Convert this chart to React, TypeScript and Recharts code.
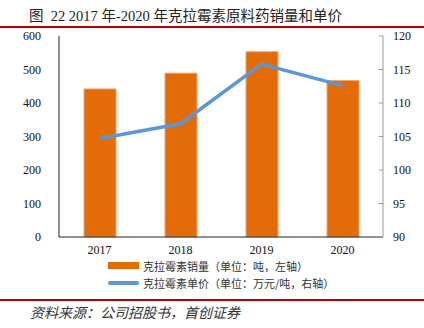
import { Bar, ComposedChart, Line, XAxis, YAxis } from "recharts";

const years = ["2017", "2018", "2019", "2020"];
const salesTons = [442, 489, 553, 467];
const unitPrice = [104.7, 106.9, 115.8, 112.6];
const leftTicks = [0, 100, 200, 300, 400, 500, 600];
const rightTicks = [90, 95, 100, 105, 110, 115, 120];

const barLabel = "克拉霉素销量（单位：吨，左轴）";
const lineLabel = "克拉霉素单价（单位：万元/吨，右轴）";

const orange = "#E36C09";
const blue = "#5B96D8";
const red = "#C00000";
const serif = "'Liberation Serif', 'Noto Sans CJK SC', serif";

const data = years.map((y, i) => ({
  year: y,
  sales: salesTons[i],
  price: unitPrice[i],
}));

export default function App() {
  return (
    <div
      style={{
        position: "fixed",
        left: 0,
        top: 0,
        width: 424,
        height: 328,
        background: "#fff",
        fontFamily: serif,
        overflow: "hidden",
      }}
    >
      <div
        style={{
          position: "absolute",
          left: 29,
          top: 4,
          fontSize: 14.5,
          color: "#222",
          whiteSpace: "pre",
          fontFamily: "'Liberation Serif', 'Noto Sans CJK SC', sans-serif",
        }}
      >
        {"图  22 2017 年-2020 年克拉霉素原料药销量和单价"}
      </div>
      <div style={{ position: "absolute", left: 0, top: 26, width: 424, height: 1.5, background: red }} />

      <div style={{ position: "absolute", left: 0, top: 0 }}>
        <ComposedChart
          width={424}
          height={264}
          data={data}
          margin={{ top: 36, right: 0, left: 0, bottom: 5 }}
          barCategoryGap="60%"
        >
          <XAxis
            dataKey="year"
            tickLine={false}
            axisLine={{ stroke: "#222", strokeWidth: 1 }}
            tick={{ fill: "#111", fontSize: 12, fontFamily: serif }}
            height={22}
          />
          <YAxis
            yAxisId="left"
            domain={[0, 600]}
            ticks={leftTicks}
            width={59}
            tickLine={false}
            axisLine={{ stroke: "#222", strokeWidth: 1 }}
            tick={{ fill: "#111", fontSize: 12, fontFamily: serif }}
            tickMargin={12}
            interval={0}
          />
          <YAxis
            yAxisId="right"
            orientation="right"
            domain={[90, 120]}
            ticks={rightTicks}
            width={41}
            tickSize={-4}
            tickLine={{ stroke: "#999" }}
            axisLine={{ stroke: "#999", strokeWidth: 1 }}
            tick={{ fill: "#111", fontSize: 12, fontFamily: serif }}
            tickMargin={14}
            interval={0}
          />
          <Bar
            yAxisId="left"
            dataKey="sales"
            name={barLabel}
            fill={orange}
            stroke="#F2A46A"
            strokeWidth={1}
            barSize={32}
            isAnimationActive={false}
          />
          <Line
            yAxisId="right"
            dataKey="price"
            name={lineLabel}
            type="linear"
            stroke={blue}
            strokeWidth={3.5}
            dot={false}
            activeDot={false}
            isAnimationActive={false}
          />
        </ComposedChart>
      </div>

      <div style={{ position: "absolute", left: 108, top: 257, fontSize: 11, color: "#333", fontFamily: "'Noto Sans CJK SC', sans-serif" }}>
        <div style={{ display: "flex", alignItems: "center", height: 17 }}>
          <span style={{ display: "inline-block", width: 31, height: 7, background: orange, marginRight: 4 }} />
          {barLabel}
        </div>
        <div style={{ display: "flex", alignItems: "center", height: 18 }}>
          <span style={{ display: "inline-block", width: 31, height: 3.5, background: blue, borderRadius: 2, marginRight: 4 }} />
          {lineLabel}
        </div>
      </div>

      <div style={{ position: "absolute", left: 0, top: 299, width: 424, height: 1.5, background: red }} />
      <div
        style={{
          position: "absolute",
          left: 30,
          top: 302,
          fontSize: 14,
          fontStyle: "italic",
          color: "#333",
          whiteSpace: "nowrap",
          fontFamily: "'Noto Sans CJK SC', sans-serif",
        }}
      >
        资料来源：公司招股书，首创证券
      </div>
    </div>
  );
}
